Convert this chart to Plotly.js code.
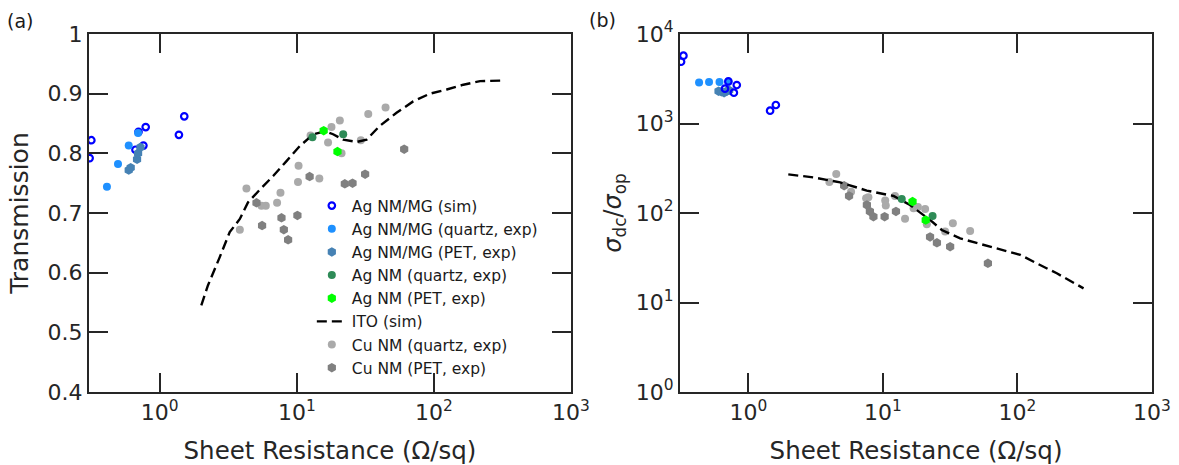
<!DOCTYPE html>
<html>
<head>
<meta charset="utf-8">
<script src="https://cdn.plot.ly/plotly-3.0.1.min.js"></script>
<style>html,body{margin:0;padding:0;background:#fff;}#chart{width:1179px;height:465px;}</style>
</head>
<body>
<div id="chart"></div>
<script>
// ---------- (a) Transmission vs sheet resistance ----------
const simR_a = [0.317, 0.308, 0.70, 0.79, 0.76, 0.665, 1.51, 1.38];
const simT_a = [0.822, 0.792, 0.836, 0.844, 0.813, 0.806, 0.862, 0.831];
const mgQuartzR_a = [0.412, 0.496, 0.594, 0.695];
const mgQuartzT_a = [0.744, 0.782, 0.813, 0.834];
const mgPetR_a = [0.594, 0.614, 0.683, 0.695, 0.723];
const mgPetT_a = [0.772, 0.776, 0.790, 0.800, 0.810];
const nmQuartzR_a = [13.0, 21.8];
const nmQuartzT_a = [0.827, 0.832];
const nmPetR_a = [15.7, 19.8];
const nmPetT_a = [0.838, 0.803];
const itoR_a = [2.01, 2.25, 2.74, 3.24, 3.84, 4.41, 5.37, 6.72, 8.41, 10.5, 13.2, 16.0, 18.4, 21.8, 27.3, 32.3, 40.3, 53.4, 70.6, 93.5, 124, 164, 217, 271, 321];
const itoT_a = [0.545, 0.579, 0.626, 0.668, 0.690, 0.718, 0.739, 0.762, 0.787, 0.812, 0.832, 0.837, 0.832, 0.823, 0.819, 0.823, 0.846, 0.868, 0.887, 0.900, 0.907, 0.915, 0.921, 0.922, 0.922];
const cuQuartzR_a = [4.29, 3.84, 5.52, 5.94, 7.18, 7.6, 10.3, 10.2, 14.6, 16.9, 17.9, 20.6, 33.2, 44.4, 29.3, 21.2, 12.6];
const cuQuartzT_a = [0.741, 0.672, 0.712, 0.712, 0.717, 0.734, 0.779, 0.752, 0.758, 0.818, 0.844, 0.855, 0.866, 0.877, 0.822, 0.800, 0.830];
const cuPetR_a = [5.08, 5.58, 7.73, 8.04, 8.64, 10.1, 12.4, 22.4, 25.5, 31.5, 60.7];
const cuPetT_a = [0.717, 0.679, 0.692, 0.672, 0.655, 0.696, 0.761, 0.749, 0.750, 0.765, 0.807];

// ---------- (b) sigma_dc/sigma_op vs sheet resistance ----------
const simR_b = [0.316, 0.329, 0.82, 0.78, 0.71, 0.67, 1.45, 1.6];
const simS_b = [4900, 5730, 2690, 2210, 2950, 2450, 1390, 1610];
const mgQuartzR_b = [0.43, 0.51, 0.61, 0.71];
const mgQuartzS_b = [2880, 2900, 2900, 2920];
const mgPetR_b = [0.60, 0.63, 0.66, 0.69, 0.72];
const mgPetS_b = [2300, 2270, 2210, 2300, 2350];
const nmQuartzR_b = [13.8, 23.4];
const nmQuartzS_b = [143, 92.6];
const nmPetR_b = [16.6, 20.8];
const nmPetS_b = [134, 83.5];
const itoR_b = [1.98, 3.04, 4.81, 7.59, 12.0, 15.9, 22.4, 27.4, 37.5, 52.8, 74.3, 105, 139, 196, 310];
const itoS_b = [270, 250, 220, 178, 155, 123, 83.6, 64.6, 52, 45, 39.3, 34, 27.4, 21.2, 14.4];
const cuQuartzR_b = [4.0, 4.5, 5.8, 7.5, 7.8, 10.4, 10.5, 12.3, 14.6, 16.9, 18.2, 20.6, 21.2, 29, 33.1, 44.5];
const cuQuartzS_b = [222, 272, 173, 146, 150, 138, 121, 155, 86, 113, 117, 111, 75, 62, 77, 63];
const cuPetR_b = [5.15, 5.6, 7.6, 8.0, 8.5, 10.3, 12.5, 22.4, 25.2, 31.6, 60.3];
const cuPetS_b = [202, 155, 123, 104, 91, 91, 104, 54, 46.5, 42, 27.4];

// ---------- tick labels ----------
const xTickVals = [1, 10, 100, 1000];
const xTickText = ['10<sup>0</sup>', '10<sup>1</sup>', '10<sup>2</sup>', '10<sup>3</sup>'];
const yTickVals_b = [1, 10, 100, 1000, 10000];
const yTickText_b = ['10<sup>0</sup>', '10<sup>1</sup>', '10<sup>2</sup>', '10<sup>3</sup>', '10<sup>4</sup>'];
const minorVals_b = [];
for (let k = 0; k < 4; k++) for (let d = 2; d <= 9; d++) minorVals_b.push(d * Math.pow(10, k));

const names = ['Ag NM/MG (sim)', 'Ag NM/MG (quartz, exp)', 'Ag NM/MG (PET, exp)', 'Ag NM (quartz, exp)',
               'Ag NM (PET, exp)', 'ITO (sim)', 'Cu NM (quartz, exp)', 'Cu NM (PET, exp)'];
const colSim = '#0000ff', colMgQ = '#1e90ff', colMgP = '#4682b4', colNmQ = '#2e8b57',
      colNmP = '#00ff00', colCuQ = '#aaaaaa', colCuP = '#808080';

function traces(ax, ay, d, legend) {
  const mk = (x, y, name, rank, marker) => ({
    x: x, y: y, name: name, xaxis: ax, yaxis: ay, type: 'scatter', mode: 'markers',
    marker: marker, showlegend: legend, legendrank: rank, hoverinfo: 'skip'
  });
  const circ = (c) => ({color: c, size: 8, symbol: 'circle', line: {width: 0}});
  const hex = (c) => ({color: c, size: 9.5, symbol: 'hexagon', line: {width: 0}});
  const simTrace = mk(d.simR, d.simY, names[0], 1, {color: colSim, size: 6.5, symbol: 'circle-open', line: {color: colSim, width: 2.2}});
  const ito = {x: d.itoR, y: d.itoY, name: names[5], xaxis: ax, yaxis: ay, type: 'scatter', mode: 'lines',
    line: {color: '#000000', width: 2.4, dash: '10px,5px'}, showlegend: legend, legendrank: 6, hoverinfo: 'skip'};
  const list = [
    mk(d.cuQR, d.cuQY, names[6], 7, circ(colCuQ)),
    mk(d.cuPR, d.cuPY, names[7], 8, hex(colCuP)),
    ito,
    mk(d.nmQR, d.nmQY, names[3], 4, circ(colNmQ)),
    mk(d.nmPR, d.nmPY, names[4], 5, hex(colNmP)),
  ];
  if (d.simOnTop) {
    list.push(mk(d.mgQR, d.mgQY, names[1], 2, circ(colMgQ)));
    list.push(mk(d.mgPR, d.mgPY, names[2], 3, hex(colMgP)));
    list.push(simTrace);
  } else {
    list.push(simTrace);
    list.push(mk(d.mgQR, d.mgQY, names[1], 2, circ(colMgQ)));
    list.push(mk(d.mgPR, d.mgPY, names[2], 3, hex(colMgP)));
  }
  return list;
}

const data = [].concat(
  traces('x', 'y', {
    simR: simR_a, simY: simT_a, mgQR: mgQuartzR_a, mgQY: mgQuartzT_a, mgPR: mgPetR_a, mgPY: mgPetT_a,
    nmQR: nmQuartzR_a, nmQY: nmQuartzT_a, nmPR: nmPetR_a, nmPY: nmPetT_a, itoR: itoR_a, itoY: itoT_a,
    cuQR: cuQuartzR_a, cuQY: cuQuartzT_a, cuPR: cuPetR_a, cuPY: cuPetT_a, simOnTop: false
  }, true),
  traces('x2', 'y2', {
    simR: simR_b, simY: simS_b, mgQR: mgQuartzR_b, mgQY: mgQuartzS_b, mgPR: mgPetR_b, mgPY: mgPetS_b,
    nmQR: nmQuartzR_b, nmQY: nmQuartzS_b, nmPR: nmPetR_b, nmPY: nmPetS_b, itoR: itoR_b, itoY: itoS_b,
    cuQR: cuQuartzR_b, cuQY: cuQuartzS_b, cuPR: cuPetR_b, cuPY: cuPetS_b, simOnTop: true
  }, false)
);

const W = 1179, H = 465;
const ML = 89.3, MR = W - 1151.7, MT = 34, MB = H - 392;
const PW = W - ML - MR, PH = H - MT - MB;
const px = (x) => (x - ML) / PW;     // page pixel -> paper x
const py = (y) => (H - MB - y) / PH; // page pixel -> paper y
const axCol = '#262626';
const FAM = 'DejaVu Sans, Verdana, sans-serif';
function axis(extra) {
  return Object.assign({
    showline: true, linecolor: axCol, linewidth: 2, mirror: 'ticks', ticks: 'inside',
    ticklen: 19, tickwidth: 2, tickcolor: axCol, showgrid: false, zeroline: false,
    tickfont: {family: FAM, size: 22, color: axCol}
  }, extra);
}
const layout = {
  width: W, height: H,
  margin: {l: ML, r: MR, t: MT, b: MB, pad: 0},
  font: {family: FAM, color: axCol},
  showlegend: true,
  legend: {
    x: px(312), y: py(189), xanchor: 'left', yanchor: 'top',
    bgcolor: 'rgba(0,0,0,0)', borderwidth: 0, itemwidth: 30,
    font: {family: FAM, size: 15.5, color: '#1a1a1a'},
    tracegroupgap: 0
  },
  xaxis: axis({
    type: 'log', domain: [0, px(571)], range: [-0.516, 3],
    tickvals: xTickVals, ticktext: xTickText,
    title: {text: 'Sheet Resistance (\u03A9/sq)', font: {size: 24.5, color: axCol}}
  }),
  yaxis: axis({
    domain: [0, 1], range: [0.4, 1], dtick: 0.1,
    title: {text: 'Transmission', font: {size: 25, color: axCol}}
  }),
  xaxis2: axis({
    type: 'log', domain: [px(680), 1], range: [-0.508, 3], anchor: 'y2',
    tickvals: xTickVals, ticktext: xTickText,
    title: {text: 'Sheet Resistance (\u03A9/sq)', font: {size: 24.5, color: axCol}}
  }),
  yaxis2: axis({
    type: 'log', domain: [0, 1], range: [0, 4], anchor: 'x2',
    tickvals: yTickVals_b, ticktext: yTickText_b,
    title: {text: '<i>\u03C3</i><sub>dc</sub>/<i>\u03C3</i><sub>op</sub>', font: {size: 24, color: axCol}}
  }),
  // minor ticks of panel (b) y axis, drawn by an overlaying log axis on the same range
  yaxis3: {
    type: 'log', range: [0, 4], overlaying: 'y2', anchor: 'x2', side: 'left',
    tickmode: 'array', tickvals: minorVals_b, showticklabels: false,
    ticks: 'inside', ticklen: 11, tickwidth: 2, tickcolor: axCol, mirror: 'ticks',
    showline: false, showgrid: false, zeroline: false
  },
  annotations: [
    {text: '(a)', xref: 'paper', yref: 'paper', x: px(20), y: py(21), xanchor: 'center', yanchor: 'middle', showarrow: false,
     font: {family: FAM, size: 19, color: '#1a1a1a'}},
    {text: '(b)', xref: 'paper', yref: 'paper', x: px(603), y: py(20), xanchor: 'center', yanchor: 'middle', showarrow: false,
     font: {family: FAM, size: 19, color: '#1a1a1a'}}
  ]
};

Plotly.newPlot('chart', data, layout, {displayModeBar: false, staticPlot: true});
</script>
</body>
</html>
